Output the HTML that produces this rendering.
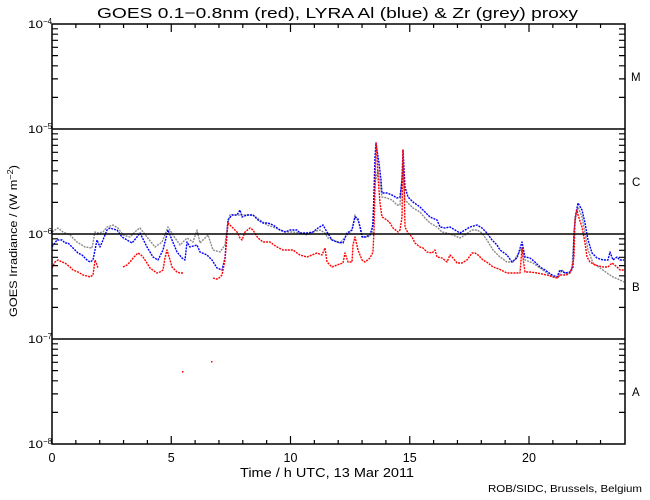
<!DOCTYPE html>
<html>
<head>
<meta charset="utf-8">
<style>
html,body{margin:0;padding:0;background:#fff;}
svg{display:block;}
text{font-family:"Liberation Sans",Arial,sans-serif;fill:#000;}
</style>
</head>
<body>
<svg width="650" height="500" viewBox="0 0 650 500" xmlns="http://www.w3.org/2000/svg">
<rect x="0" y="0" width="650" height="500" fill="#fff"/>

<!-- title -->
<text x="97" y="18" font-size="15" textLength="481" lengthAdjust="spacingAndGlyphs">GOES 0.1−0.8nm (red), LYRA Al (blue) &amp; Zr (grey) proxy</text>

<!-- data: grey -->
<polyline fill="none" stroke="#8a8a8a" stroke-width="1.4" stroke-linejoin="round" stroke-dasharray="2 1" points="52,232 58,228 63,232 70,235 77,242 85,247 92,248 95,232 98,233 103,232 107,227 113,225 118,228 123,235 130,237 137,230 140,228 147,237 155,247 162,242 168,227 173,235 180,245 187,238 193,242 197,230 200,243 208,235 213,250 220,252 225,245 228,222 230,215 237,215 247,215 253,215 260,220 267,225 273,227 280,230 287,232 293,232 300,233 307,235 313,232 320,230 325,233 328,238 333,240 340,243 347,235 352,230 355,215 359,223 363,237 368,237 372,233 375,183 378,170 382,197 387,198 392,200 397,205 400,205 403,163 405,200 408,203 413,208 420,212 425,218 430,223 437,227 442,232 447,233 453,235 460,238 465,235 472,230 477,230 482,233 487,240 493,250 500,257 507,262 513,262 522,248 525,260 533,263 540,268 547,273 553,277 558,278 562,270 567,275 572,270 575,217 578,207 582,217 585,233 588,250 593,263 600,268 607,273 613,277 620,280 624,282"/>

<!-- data: blue -->
<polyline fill="none" stroke="#0000ff" stroke-width="1.4" stroke-linejoin="round" stroke-dasharray="2 1" points="52,247 57,240 62,240 65,243 68,243 73,248 78,253 82,255 87,260 90,262 93,260 95,250 97,240 100,247 103,240 107,230 110,228 113,229 117,230 122,237 127,240 132,243 137,237 140,233 147,247 153,257 158,260 163,250 168,230 172,240 177,252 182,258 185,260 187,242 190,247 197,245 200,252 207,255 212,260 217,268 222,270 225,258 228,220 232,215 237,215 240,210 242,217 247,215 253,215 258,220 263,223 268,223 273,225 280,230 285,232 290,230 297,230 300,233 307,233 313,232 318,228 323,225 327,232 332,240 337,242 343,243 347,233 352,230 355,217 358,219 360,227 362,237 365,237 370,235 373,225 375,157 376,143 377,150 379,163 381,180 382,193 387,193 392,195 397,198 400,197 402,180 403,150 405,187 408,197 413,202 420,207 425,212 430,217 437,220 440,227 445,228 450,227 455,230 460,233 465,230 470,227 477,225 482,228 487,233 492,240 497,245 500,250 507,255 512,262 517,258 522,242 525,257 530,258 535,262 540,267 545,270 552,275 557,277 560,270 565,273 570,272 573,267 574,233 576,213 578,203 582,210 585,223 588,240 592,253 597,258 603,260 608,260 610,252 613,260 617,257 620,260 624,260"/>

<!-- data: red -->
<g fill="none" stroke="#ff0000" stroke-width="1.4" stroke-linejoin="round" stroke-dasharray="2 1">
<polyline points="52,268 55,262 58,260 62,262 65,263 70,267 73,270 78,272 83,275 87,276 90,277 93,275 95,260 97,265 98,268"/>
<polyline points="123,267 127,265 130,262 134,257 138,253 141,255 143,257 147,263 150,268 154,271 157,273 160,272 163,270 165,258 167,250 170,260 172,267 175,270 177,272 180,273 183,273"/>
<polyline points="213,278 216,279 218,279 222,275 224,265 225,260 227,235 228,223 232,227 237,232 240,238 242,240 245,232 250,228 253,230 256,235 258,238 263,242 270,242 274,245 277,247 283,250 288,250 293,250 297,253 300,255 307,257 312,255 317,253 322,255 325,248 327,262 332,267 337,265 343,263 345,253 348,262 352,262 353,245 355,237 358,250 362,260 365,262 370,258 373,252 374,230 375,190 376,143 377,150 378,177 380,203 382,217 387,220 390,223 393,228 398,232 400,230 402,217 403,150 404,180 405,227 408,233 412,237 415,243 420,247 423,248 427,252 432,253 435,250 437,257 442,258 447,262 450,255 453,258 457,263 462,263 467,260 472,253 475,253 478,255 483,260 488,263 493,267 499,269 503,271 507,273 513,273 520,273 522,248 523,258 525,272 530,272 537,273 547,275 553,277 557,278 560,275 565,275 570,273 572,267 574,257 575,220 577,210 578,215 582,227 585,243 587,257 590,262 595,265 603,267 608,267 612,263 617,267 620,270 624,270"/>
</g>
<rect x="182" y="371" width="1.5" height="1.5" fill="#ff0000"/>
<rect x="211" y="361" width="1.5" height="1.5" fill="#ff0000"/>

<!-- horizontal class lines -->
<g stroke="#000" stroke-width="1.5">
<line x1="52" y1="129" x2="625" y2="129"/>
<line x1="52" y1="234" x2="625" y2="234"/>
<line x1="52" y1="339" x2="625" y2="339"/>
</g>

<!-- frame -->
<rect x="52" y="24" width="573" height="420" fill="none" stroke="#000" stroke-width="1.5"/>

<!-- y minor ticks left & right -->
<g stroke="#000" stroke-width="1.2">
<path d="M52 412.4h6M52 393.9h6M52 380.8h6M52 370.6h6M52 362.3h6M52 355.3h6M52 349.2h6M52 343.8h6
M52 307.4h6M52 288.9h6M52 275.8h6M52 265.6h6M52 257.3h6M52 250.3h6M52 244.2h6M52 238.8h6
M52 202.4h6M52 183.9h6M52 170.8h6M52 160.6h6M52 152.3h6M52 145.3h6M52 139.2h6M52 133.8h6
M52 97.4h6M52 78.9h6M52 65.8h6M52 55.6h6M52 47.3h6M52 40.3h6M52 34.2h6M52 28.8h6"/>
<path d="M625 412.4h-6M625 393.9h-6M625 380.8h-6M625 370.6h-6M625 362.3h-6M625 355.3h-6M625 349.2h-6M625 343.8h-6
M625 307.4h-6M625 288.9h-6M625 275.8h-6M625 265.6h-6M625 257.3h-6M625 250.3h-6M625 244.2h-6M625 238.8h-6
M625 202.4h-6M625 183.9h-6M625 170.8h-6M625 160.6h-6M625 152.3h-6M625 145.3h-6M625 139.2h-6M625 133.8h-6
M625 97.4h-6M625 78.9h-6M625 65.8h-6M625 55.6h-6M625 47.3h-6M625 40.3h-6M625 34.2h-6M625 28.8h-6"/>
<!-- x ticks bottom -->
<path d="M171.25 444v-8M290.5 444v-8M409.75 444v-8M529 444v-8
M75.85 444v-4M99.7 444v-4M123.55 444v-4M147.4 444v-4M195.1 444v-4M218.95 444v-4M242.8 444v-4M266.65 444v-4
M314.35 444v-4M338.2 444v-4M362.05 444v-4M385.9 444v-4M433.6 444v-4M457.45 444v-4M481.3 444v-4M505.15 444v-4
M552.85 444v-4M576.7 444v-4M600.55 444v-4"/>
<!-- x ticks top -->
<path d="M171.25 24v8M290.5 24v8M409.75 24v8M529 24v8
M75.85 24v4M99.7 24v4M123.55 24v4M147.4 24v4M195.1 24v4M218.95 24v4M242.8 24v4M266.65 24v4
M314.35 24v4M338.2 24v4M362.05 24v4M385.9 24v4M433.6 24v4M457.45 24v4M481.3 24v4M505.15 24v4
M552.85 24v4M576.7 24v4M600.55 24v4"/>
</g>

<!-- y tick labels -->
<g font-size="11">
<text x="28" y="28" textLength="15" lengthAdjust="spacingAndGlyphs">10</text>
<text x="28" y="133" textLength="15" lengthAdjust="spacingAndGlyphs">10</text>
<text x="28" y="238" textLength="15" lengthAdjust="spacingAndGlyphs">10</text>
<text x="28" y="343" textLength="15" lengthAdjust="spacingAndGlyphs">10</text>
<text x="28" y="448" textLength="15" lengthAdjust="spacingAndGlyphs">10</text>
</g>
<g font-size="8">
<text x="43" y="24">−4</text>
<text x="43" y="129">−5</text>
<text x="43" y="234">−6</text>
<text x="43" y="339">−7</text>
<text x="43" y="444">−8</text>
</g>

<!-- x tick labels -->
<g font-size="12.5" text-anchor="middle">
<text x="52" y="462">0</text>
<text x="171.25" y="462">5</text>
<text x="290.5" y="462">10</text>
<text x="409.75" y="462">15</text>
<text x="529" y="462">20</text>
</g>

<!-- axis titles -->
<text x="240" y="477" font-size="12.5" textLength="174" lengthAdjust="spacingAndGlyphs">Time / h UTC, 13 Mar 2011</text>
<text transform="translate(17,317) rotate(-90)" font-size="11" textLength="152" lengthAdjust="spacingAndGlyphs">GOES Irradiance / (W m<tspan font-size="8" dy="-4">−2</tspan><tspan dy="4">)</tspan></text>

<!-- class labels -->
<g font-size="11.5">
<text x="631" y="81">M</text>
<text x="632" y="186">C</text>
<text x="632" y="291">B</text>
<text x="632" y="396">A</text>
</g>

<!-- credit -->
<text x="488" y="492" font-size="10.5" textLength="154" lengthAdjust="spacingAndGlyphs">ROB/SIDC, Brussels, Belgium</text>
</svg>
</body>
</html>
